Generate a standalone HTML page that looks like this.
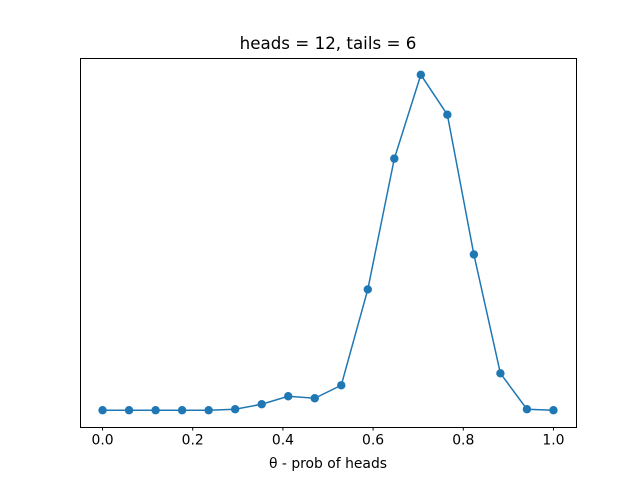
<!DOCTYPE html>
<html><head><meta charset="utf-8"><style>
body{margin:0;background:#fff;}
svg text{font-family:"DejaVu Sans","Liberation Sans",sans-serif;fill:#000;}
</style></head><body>
<svg id="chart" width="640" height="480">
<rect width="640" height="480" fill="#fff"/>
<text x="328" y="49" font-size="16.7" text-anchor="middle">heads = 12, tails = 6</text>
<g id="ticks"></g>
<text x="328" y="468" font-size="13.9" text-anchor="middle">θ - prob of heads</text>
<polyline id="line" fill="none" stroke="#1f77b4" stroke-width="1.5"/>
<g id="pts"></g>
<rect x="80.5" y="58.5" width="496" height="369" fill="none" stroke="#000" stroke-width="1"/>
</svg>
<script>
const thetas = [0,1/17,2/17,3/17,4/17,5/17,6/17,7/17,8/17,9/17,10/17,11/17,12/17,13/17,14/17,15/17,16/17,1];
const values = [0,0,0,0,0,1,6,14,12,25,121,252,336,296,156,37,1,0];
const xTicks = [0,0.2,0.4,0.6,0.8,1.0];
const xTickLabels = ["0.0","0.2","0.4","0.6","0.8","1.0"];
const NS="http://www.w3.org/2000/svg";
const pLeft=80, pRight=576, pTop=58, pBottom=427;
const xmin=-0.05, xmax=1.05;
const vmax=Math.max(...values), vmin=Math.min(...values), vr=vmax-vmin;
const ymin=vmin-0.05*vr, ymax=vmax+0.05*vr;
const sx=v=>pLeft+(v-xmin)/(xmax-xmin)*(pRight-pLeft);
const sy=v=>pBottom-(v-ymin)/(ymax-ymin)*(pBottom-pTop);
const tg=document.getElementById('ticks');
xTicks.forEach((t,i)=>{
  const l=document.createElementNS(NS,'line');
  l.setAttribute('x1',sx(t));l.setAttribute('x2',sx(t));
  l.setAttribute('y1',pBottom);l.setAttribute('y2',pBottom+3.5);
  l.setAttribute('stroke','#000');
  
  
  tg.appendChild(l);
  const tx=document.createElementNS(NS,'text');
  tx.setAttribute('x',sx(t));tx.setAttribute('y',pBottom+17.5);
  tx.setAttribute('font-size','13.9');tx.setAttribute('text-anchor','middle');
  tx.textContent=xTickLabels[i];
  
  
  tg.appendChild(tx);
});
document.getElementById('line').setAttribute('points',thetas.map((t,i)=>sx(t)+','+sy(values[i])).join(' '));
const pg=document.getElementById('pts');
thetas.forEach((t,i)=>{
  const c=document.createElementNS(NS,'circle');
  c.setAttribute('cx',sx(t));c.setAttribute('cy',sy(values[i]));c.setAttribute('r',4.2);
  c.setAttribute('fill','#1f77b4');
  
  
  pg.appendChild(c);
});
</script>
</body></html>
